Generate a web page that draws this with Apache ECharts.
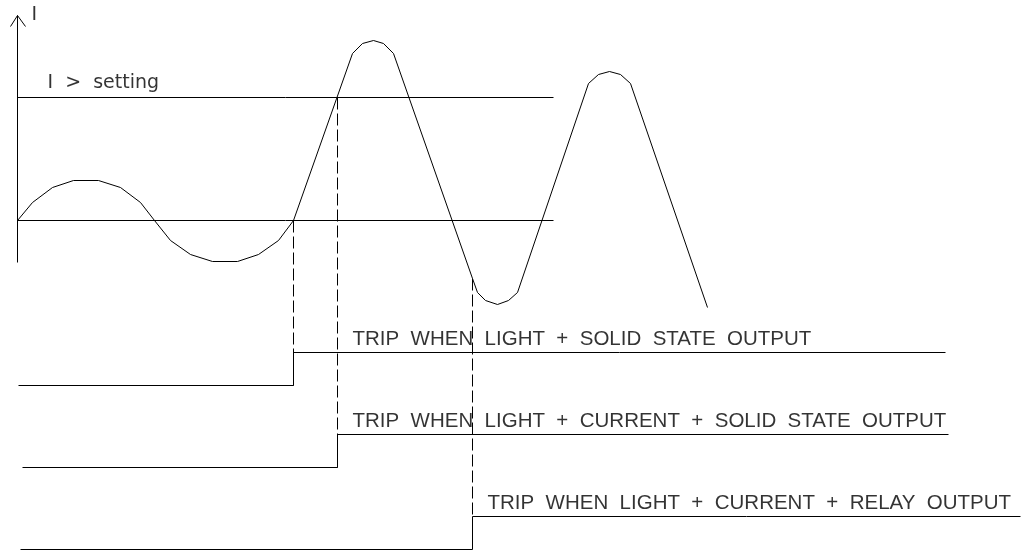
<!DOCTYPE html>
<html>
<head>
<meta charset="utf-8">
<script src="https://cdn.jsdelivr.net/npm/echarts@6/dist/echarts.min.js"></script>
<style>
html,body{margin:0;padding:0;background:#fff;}
#chart{width:1022px;height:550px;}
</style>
</head>
<body>
<div id="chart"></div>
<script>
// Current waveform (time units, current units)
const waveTime = [0,15,35,56,81,103,123,137,153,173,195,220,241,261,276,335,345,356,366,376,455,460,468,480,491,500,571,581,592,603,613,690];
const waveCurrent = [0,18,33,40,40,33,18,0,-20,-34,-41,-41,-34,-20,0,167,177,180,177,167,-58,-72,-80,-84,-80,-72,137,146,149,146,137,-87];

// Reference levels
const settingLevel = 123;
const zeroLevel = 0;
const refLineEnd = 536;
const settingLabel = 'I  >  setting';
const axisLabel = 'I';
const axisTop = 205;
const axisBottom = -42;

// Output traces
const outputNames = [
  'TRIP  WHEN  LIGHT  +  SOLID  STATE  OUTPUT',
  'TRIP  WHEN  LIGHT  +  CURRENT  +  SOLID  STATE  OUTPUT',
  'TRIP  WHEN  LIGHT  +  CURRENT  +  RELAY  OUTPUT'
];
const outputStart = [1, 5, 3];
const outputTrip = [276, 320, 455];
const outputEnd = [928, 931, 1003];
const outputLow = [-165, -247, -329];
const outputHigh = [-132, -214, -296];
const tripCurrent = [0, 123, -58];   // waveform level at the trip instant
const outputLabelTime = [335, 335, 470];

const black = '#000';
const chart = echarts.init(document.getElementById('chart'), null, {renderer: 'canvas'});

const lineStyle = {color: black, width: 1};
function seg(points, dashed) {
  return {
    type: 'line', data: points, symbol: 'none', silent: true, animation: false,
    lineStyle: Object.assign({}, lineStyle, dashed ? {type: [12, 4]} : {})
  };
}

const series = [];
series.push(seg(waveTime.map((t, i) => [t, waveCurrent[i]])));
series.push(seg([[0, settingLevel], [refLineEnd, settingLevel]]));
series.push(seg([[0, zeroLevel], [refLineEnd, zeroLevel]]));
series.push(seg([[0, axisBottom], [0, axisTop]]));
series.push(seg([[-7, axisTop - 11], [0, axisTop], [8, axisTop - 11]]));
for (let k = 0; k < outputNames.length; k++) {
  series.push(seg([[outputStart[k], outputLow[k]], [outputTrip[k], outputLow[k]],
                   [outputTrip[k], outputHigh[k]], [outputEnd[k], outputHigh[k]]]));
  series.push(seg([[outputTrip[k], tripCurrent[k]], [outputTrip[k], outputLow[k]]], true));
}
const traceFont = {fontFamily: 'Liberation Sans', fontSize: 20.5, color: black};
const smallFont = {fontFamily: 'DejaVu Sans', fontSize: 19, color: black};
const labelPoints = outputNames.map((n, k) => ({
  name: n, value: [outputLabelTime[k], outputHigh[k]],
  label: Object.assign({offset: [0, -13]}, traceFont)
}));
labelPoints.push({name: settingLabel, value: [30, settingLevel],
  label: Object.assign({offset: [0, -14.5]}, smallFont)});
labelPoints.push({name: axisLabel, value: [14, axisTop],
  label: Object.assign({offset: [0, 0]}, smallFont)});
series.push({
  type: 'scatter', symbolSize: 0, silent: true, animation: false,
  data: labelPoints,
  label: {show: true, position: [0, 0], align: 'left', verticalAlign: 'middle',
    formatter: p => p.name, color: black}
});

chart.setOption({
  backgroundColor: '#fff',
  animation: false,
  grid: {left: 0, right: 0, top: 0, bottom: 0},
  xAxis: {type: 'value', min: -17.5, max: 1004.5, show: false},
  yAxis: {type: 'value', min: -329.5, max: 220.5, show: false},
  series: series
});
</script>
</body>
</html>
